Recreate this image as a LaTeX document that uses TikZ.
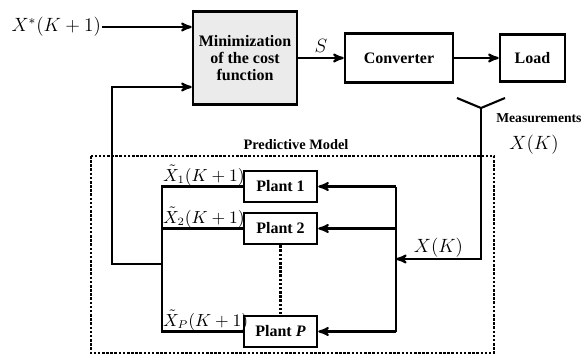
\documentclass[tikz,border=0pt]{standalone}
\usepackage{amsmath}
\usepackage{fontspec}
\setmainfont{Liberation Serif}
\usepackage{tikz}
\usetikzlibrary{arrows,positioning}
\tikzset{
    %Define standard arrow tip
    >=stealth',
    %Define style for boxes
    block/.style={
           rectangle,
           draw=black, line width=1.6pt,
           font=\bfseries\fontsize{10}{10.5}\selectfont,
           align=center},
    greyblock/.style={
           block,
           fill=black!8!white},
    plant/.style={
           block,
           minimum width=45.6pt,
           minimum height=19.4pt,
           inner sep=1pt},
    lbl/.style={
           font=\fontsize{10.5}{12}\selectfont,
           inner sep=0.5pt},
    % Define arrow style
    pil/.style={
           ->,
           line width=1.3pt},
    wire/.style={
           line width=1.3pt},
    dots/.style={
           line width=1.6pt,
           densely dotted}
}
\begin{document}
\begin{tikzpicture}[x=0.625pt,y=-0.625pt]
\useasboundingbox (0,0) rectangle (586,356);
% top chain
\node[greyblock, minimum width=65pt, minimum height=58pt](min) at (245,58){Minimization\\of the cost\\function};
\node[block, minimum width=67.5pt, minimum height=30.6pt](conv) at (399,58){Converter};
\node[block, minimum width=40.6pt, minimum height=29.4pt](load) at (532.5,58){Load};
\node[lbl, font=\fontsize{12}{14}\selectfont, anchor=east](ref) at (102,27){$X^*(K+1)$};
\draw[pil] (ref.east) -- (ref.east -| min.west);
\draw[pil] (min) -- (conv) node[lbl, midway, above, yshift=2pt, font=\fontsize{12}{14}\selectfont]{$S$};
\draw[pil] (conv) -- (load);
% measurement
\coordinate (ant) at (481,108);
\draw[wire] (457,98) -- (ant) -- (505,98);
\node[font=\bfseries\fontsize{8.5}{10}\selectfont, anchor=west, inner sep=0pt](meas) at (496,118){Measurements};
\node[lbl, font=\fontsize{12}{14}\selectfont](xk) at (534,145){$X(K)$};
% predictive model
\draw[dots] (91,156) rectangle (494,353);
\node[font=\bfseries\small](pm) at (296,145){Predictive Model};
\node[plant](p1) at (280.5,186.5){Plant 1};
\node[plant](p2) at (280.5,228.5){Plant 2};
\node[plant](pP) at (280.5,331.5){Plant \textit{P}};
\draw[dots] (p2.south) -- (pP.north);
\coordinate (lbus) at (162,264);
\coordinate (rbus) at (396,259);
\draw[wire] (p1.west) -| (pP.west -| lbus) -- (pP.west);
\draw[wire] (p2.west) -- (p2.west -| lbus);
\node[lbl, anchor=south west] at (p1.west -| lbus){$\tilde{X}_1(K+1)$};
\node[lbl, anchor=south west] at (p2.west -| lbus){$\tilde{X}_2(K+1)$};
\node[lbl, anchor=south west] at (pP.west -| lbus){$\tilde{X}_P(K+1)$};
\draw[pil] (lbus) -| (112,87) -- (min.west |- 0,87);
\draw[wire] (p1.east -| rbus) -- (pP.east -| rbus);
\foreach \p in {p1,p2,pP}
    \draw[pil] (\p.east -| rbus) -- (\p.east);
\draw[pil] (ant) -- (ant |- rbus) -- (rbus) node[lbl, midway, above, font=\fontsize{12}{14}\selectfont]{$X(K)$};
\end{tikzpicture}
\end{document}
